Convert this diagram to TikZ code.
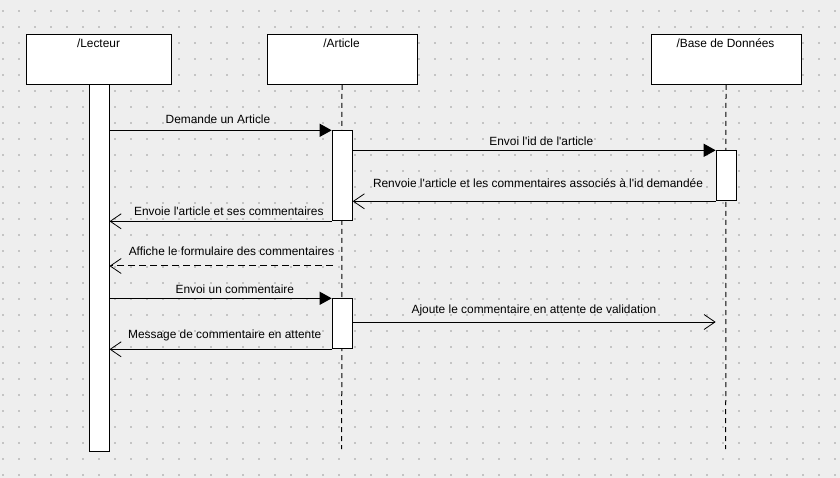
\documentclass[tikz,border=0pt]{standalone}
\usepackage{fontspec}
\setmainfont{Liberation Sans}[Ligatures=TeXOff]
\usetikzlibrary{arrows.meta}
\definecolor{bgcol}{RGB}{238,238,238}
\definecolor{dotcol}{RGB}{196,196,196}
\tikzset{
  objbox/.style={draw=black, line width=1pt, fill=white, minimum width=#1, minimum height=50pt, inner sep=0pt, anchor=north west},
  actbar/.style={draw=black, line width=1pt, fill=white, minimum width=20pt, minimum height=#1, inner sep=0pt, anchor=north west},
  lifeline/.style={line width=1pt, dash pattern=on 5pt off 4pt},
  msgtxt/.style={font=\fontsize{11.9}{13}\selectfont, anchor=base, inner sep=0pt},
  titletxt/.style={font=\fontsize{11.9}{13}\selectfont, anchor=base, inner sep=0pt},
  syncmsg/.style={line width=1pt, -{Triangle[length=12pt,width=13pt]}},
  retmsg/.style={line width=1pt, -{Straight Barb[length=11pt,width=15pt,line width=0.8pt]}},
  dashmsg/.style={line width=1pt, dash pattern=on 7pt off 4pt, -{Straight Barb[length=11pt,width=15pt,line width=0.8pt]}},
}
\begin{document}
\begin{tikzpicture}[x=1pt,y=-1pt]
\useasboundingbox (0,0) rectangle (840,478);
\fill[bgcol] (0,0) rectangle (840,478);
\foreach \i in {0,...,52} {
  \foreach \j in {0,...,29} {
    \fill[dotcol] ({2+16*\i},{10+16*\j}) rectangle ++(2,2);
  }
}
% object boxes
\node[objbox=145pt] (lect) at (26,34) {};
\node[objbox=150pt] (art) at (266.5,34) {};
\node[objbox=150pt] (bdd) at (650.5,34) {};
\node[titletxt] (tlect) at (98.5,47.5) {/Lecteur};
\node[titletxt] (tart) at (341.5,47.5) {/Article};
\node[titletxt] (tbdd) at (725.5,47.5) {/Base de Données};
% lifelines
\coordinate (artend) at (341.7,449);
\coordinate (bddend) at (725.7,449);
\draw[lifeline] (art.south) -- (artend);
\draw[lifeline] (bdd.south) -- (bddend);
% activation bars
\node[actbar=367pt] (lbar) at (88.5,84) {};
\node[actbar=90pt] (abar1) at (331.7,130.3) {};
\node[actbar=50pt] (abar2) at (331.7,298.3) {};
\node[actbar=50pt] (bbar) at (715.7,150.3) {};
% message endpoints
\coordinate (m5s) at (333,266);
\coordinate (m7e) at (715.7,322);
% messages
\draw[syncmsg] (lbar.east |- abar1.north) -- (abar1.north west);
\node[msgtxt] at (218,124) {Demande un Article};
\draw[syncmsg] (abar1.east |- bbar.north) -- (bbar.north west);
\node[msgtxt] at (541.3,145.5) {Envoi l'id de l'article};
\draw[retmsg] (bbar.south west) -- (abar1.east |- bbar.south);
\node[msgtxt] at (538,187.5) {Renvoie l'article et les commentaires associés à l'id demandée};
\draw[retmsg] (abar1.south west) -- (lbar.east |- abar1.south);
\node[msgtxt] at (228.8,215.3) {Envoie l'article et ses commentaires};
\draw[dashmsg] (m5s) -- (lbar.east |- m5s);
\node[msgtxt] at (231.5,255.5) {Affiche le formulaire des commentaires};
\draw[syncmsg] (lbar.east |- abar2.north) -- (abar2.north west);
\node[msgtxt] at (234.8,293.3) {Envoi un commentaire};
\draw[retmsg] (abar2.east |- m7e) -- (m7e);
\node[msgtxt] at (534,313.5) {Ajoute le commentaire en attente de validation};
\draw[retmsg] (abar2.south west) -- (lbar.east |- abar2.south);
\node[msgtxt] at (224.7,338) {Message de commentaire en attente};
\end{tikzpicture}
\end{document}
